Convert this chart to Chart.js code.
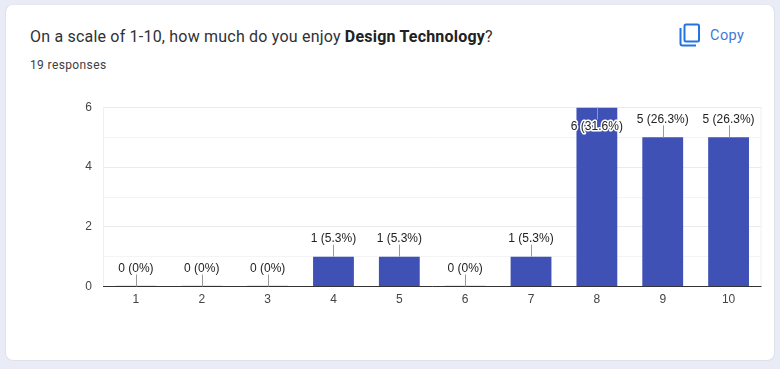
<!DOCTYPE html>
<html>
<head>
<meta charset="utf-8">
<style>
html,body{margin:0;padding:0;width:780px;height:369px;overflow:hidden;background:#e9ecf6;}
#card{position:absolute;left:5px;top:4px;width:770px;height:357px;background:#fff;border:1px solid #dfe1e8;border-top-color:#e6e8f0;border-radius:8px;box-sizing:border-box;}
#title{position:absolute;left:30px;top:27px;font:16px Roboto,sans-serif;color:#303134;letter-spacing:.2px;white-space:nowrap;}
#title b{color:#202124;}
#sub{position:absolute;left:30px;top:58px;font:12px Roboto,sans-serif;color:#3c4043;letter-spacing:.38px;white-space:nowrap;}
#copy{position:absolute;left:710px;top:27px;font:400 14.5px Roboto,sans-serif;color:#3f78d8;letter-spacing:.45px;}
#icon{position:absolute;left:679px;top:23px;}
#c{position:absolute;left:0;top:0;}
</style>
</head>
<body>
<div id="card"></div>
<div id="title">On a scale of 1-10, how much do you enjoy <b>Design Technology</b>?</div>
<div id="sub">19 responses</div>
<svg id="icon" width="22" height="24" viewBox="0 0 22 24" fill="none" stroke="#2374e1" stroke-width="2"><rect x="5.5" y="1.5" width="14.5" height="17" rx="1.5"/><path d="M1.5 5v15.5a2 2 0 0 0 2 2H17"/></svg>
<div id="copy">Copy</div>
<canvas id="c" width="780" height="369"></canvas>
<script src="https://cdn.jsdelivr.net/npm/chart.js@4/dist/chart.umd.min.js"></script>
<script>
const categories = ["1","2","3","4","5","6","7","8","9","10"];
const counts = [0,0,0,1,1,0,1,6,5,5];
const percents = ["0%","0%","0%","5.3%","5.3%","0%","5.3%","31.6%","26.3%","26.3%"];
const yTicks = [0,2,4,6];

const annotate = {
  id:'annotate',
  afterDatasetsDraw(chart){
    const {ctx, scales:{y}} = chart;
    const meta = chart.getDatasetMeta(0);
    const base = y.getPixelForValue(0), top = y.getPixelForValue(y.max);
    ctx.save();
    meta.data.forEach((bar,i)=>{
      if(counts[i]===0){
        ctx.fillStyle='#e6e6e6';
        ctx.fillRect(bar.x-bar.width/2, base-1.5, bar.width, 1.5);
      }
    });
    ctx.strokeStyle='#333';ctx.lineWidth=1;
    ctx.beginPath();ctx.moveTo(chart.chartArea.left,Math.floor(base)+0.5);ctx.lineTo(chart.chartArea.right,Math.floor(base)+0.5);ctx.stroke();
    ctx.font='12px "Liberation Sans", Arial, sans-serif';
    ctx.textAlign='center';ctx.textBaseline='middle';
    meta.data.forEach((bar,i)=>{
      const yb = y.getPixelForValue(counts[i]);
      const atTop = yb - 18 < top;
      const ty = atTop ? yb + 19 : yb - 18;
      ctx.strokeStyle='#999';ctx.lineWidth=1;
      ctx.beginPath();
      const lx=Math.round(bar.x)+0.5;
      ctx.moveTo(lx,yb);ctx.lineTo(lx,atTop? ty-7 : ty+6);ctx.stroke();
      const t = counts[i]+' ('+percents[i]+')';
      if(atTop){ctx.strokeStyle='#fff';ctx.lineWidth=3;ctx.lineJoin='round';ctx.strokeText(t,bar.x,ty);}
      ctx.fillStyle='#222';
      ctx.fillText(t,bar.x,ty);
    });
    ctx.restore();
  }
};

new Chart(document.getElementById('c'),{
  type:'bar',
  data:{labels:categories,datasets:[{data:counts,backgroundColor:'#3f51b5',barPercentage:0.62,categoryPercentage:1}]},
  options:{
    responsive:false,animation:false,
    layout:{padding:{top:107.5,right:18.5,left:0,bottom:0}},
    plugins:{legend:{display:false},tooltip:{enabled:false},title:{display:false}},
    scales:{
      x:{
        grid:{display:false,drawTicks:false},border:{display:false},
        ticks:{color:'#444',font:{family:'"Liberation Sans", Arial, sans-serif',size:12},padding:6,maxRotation:0},
        afterFit(s){s.height=82.5;}
      },
      y:{
        min:0,max:6,
        afterBuildTicks(s){s.ticks=[0,1,2,3,4,5,6].map(v=>({value:v}));},
        grid:{color(c){return c.tick.value%2===0?'#ebebeb':'#f4f4f4';},drawTicks:false},
        border:{display:false},
        ticks:{color:'#444',font:{family:'"Liberation Sans", Arial, sans-serif',size:12},padding:11,
          callback(v){return yTicks.includes(v)?String(v):'';}},
        afterFit(s){s.width=103;}
      }
    }
  },
  plugins:[annotate,{
    id:'frame',
    beforeDatasetsDraw(chart){
      const a=chart.chartArea,ctx=chart.ctx;
      ctx.save();ctx.strokeStyle='#f0f0f0';ctx.lineWidth=1;
      ctx.beginPath();
      ctx.moveTo(a.left+0.5,a.top);ctx.lineTo(a.left+0.5,a.bottom);
      ctx.moveTo(a.right-0.5,a.top);ctx.lineTo(a.right-0.5,a.bottom);
      ctx.stroke();ctx.restore();
    }
  }]
});
</script>
</body>
</html>
